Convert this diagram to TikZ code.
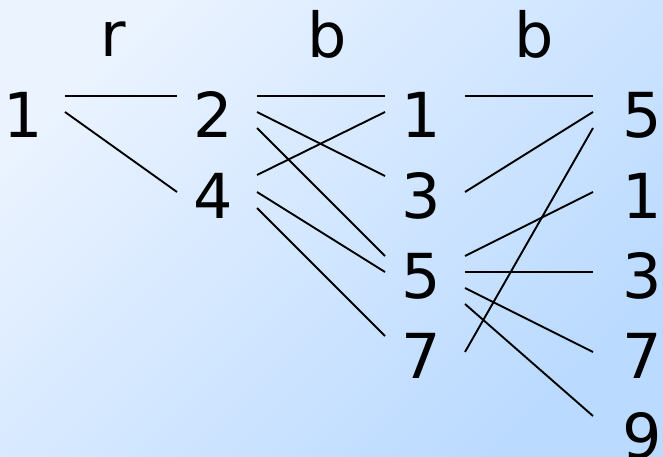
\documentclass[tikz,border=0pt]{standalone}
\usepackage{fontspec}
\setmainfont{DejaVu Sans}
\usetikzlibrary{calc}
\definecolor{bgA}{RGB}{234,243,255}
\definecolor{bgB}{RGB}{186,218,255}
\tikzset{
  lbl/.style={anchor=base, inner sep=0pt, font=\fontsize{62}{70}\selectfont, text=black},
  edgeline/.style={draw=black, line width=1.9pt}
}
\newcommand\lnk[6]{\draw[edgeline] ($(#1.base)+(#2,#3)$) -- ($(#4.base)+(#5,#6)$);}
\begin{document}
\begin{tikzpicture}[x=1pt,y=-1pt]
\shade[top color=bgA, bottom color=bgB, shading angle=45] (0,0) rectangle (663,457);
\useasboundingbox (0,0) rectangle (663,457);
% labels
\node[lbl] (lr) at (113,57) {r};
\node[lbl] (lb1) at (327,58) {b};
\node[lbl] (lb2) at (534,58) {b};
% column 1
\node[lbl] (a1) at (23,138) {1};
% column 2
\node[lbl] (b2) at (213,138) {2};
\node[lbl] (b4) at (213,218) {4};
% column 3
\node[lbl] (c1) at (421,138) {1};
\node[lbl] (c3) at (421,218) {3};
\node[lbl] (c5) at (421,298) {5};
\node[lbl] (c7) at (421,378) {7};
% column 4
\node[lbl] (d5) at (642,138) {5};
\node[lbl] (d1) at (642,218) {1};
\node[lbl] (d3) at (642,298) {3};
\node[lbl] (d7) at (642,378) {7};
\node[lbl] (d9) at (642,458) {9};
% edges col1 -> col2
\lnk{a1}{42}{-42}{b2}{-36}{-42}
\lnk{a1}{42}{-26}{b4}{-36}{-26}
% edges col2 -> col3
\lnk{b2}{44}{-42}{c1}{-36}{-42}
\lnk{b2}{44}{-26}{c3}{-36}{-42}
\lnk{b2}{44}{-10}{c5}{-36}{-42}
\lnk{b4}{44}{-43}{c1}{-36}{-26}
\lnk{b4}{44}{-26}{c5}{-36}{-26}
\lnk{b4}{44}{-10}{c7}{-36}{-42}
% edges col3 -> col4
\lnk{c1}{44}{-42}{d5}{-49}{-42}
\lnk{c3}{44}{-26}{d5}{-49}{-26}
\lnk{c7}{44}{-26}{d5}{-49}{-10}
\lnk{c5}{44}{-42}{d1}{-49}{-26}
\lnk{c5}{44}{-26}{d3}{-49}{-26}
\lnk{c5}{44}{-10}{d7}{-49}{-26}
\lnk{c5}{44}{6}{d9}{-49}{-42}
\end{tikzpicture}
\end{document}
